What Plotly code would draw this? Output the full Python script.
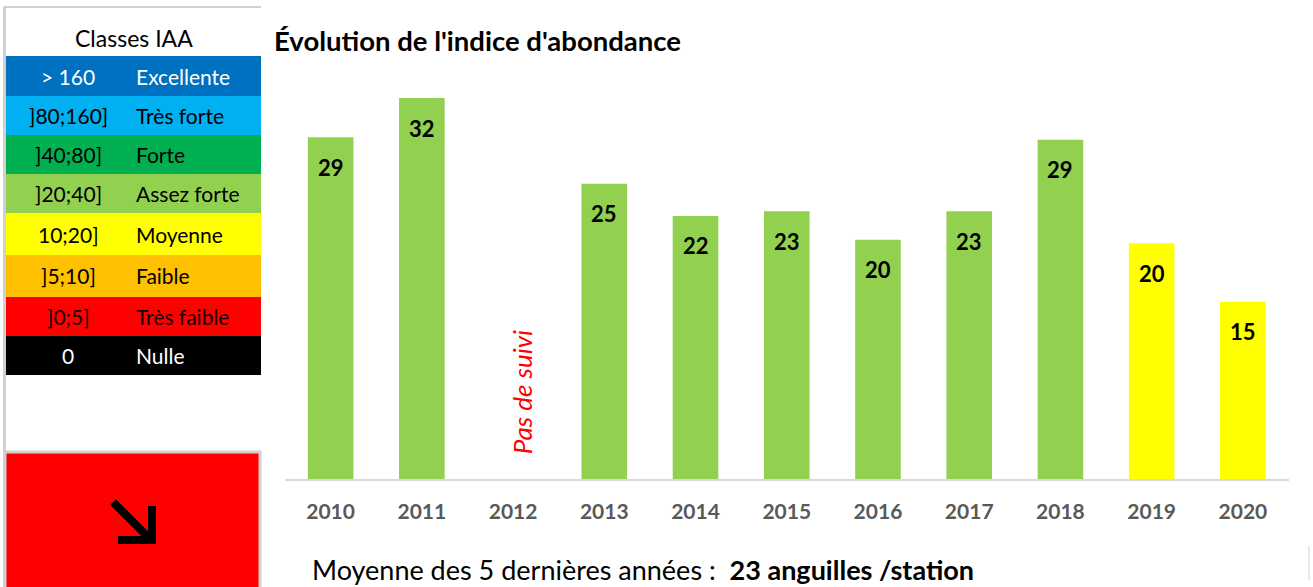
import plotly.graph_objects as go

W, H = 1313, 587

years = ["2010", "2011", "2012", "2013", "2014", "2015", "2016", "2017", "2018", "2019", "2020"]
values = [28.7, 32.0, None, 24.8, 22.1, 22.5, 20.1, 22.5, 28.5, 19.8, 14.9]
labels = ["29", "32", "", "25", "22", "23", "20", "23", "29", "20", "15"]
bar_colors = ["#92D050"] * 9 + ["#FFFF00"] * 2
missing_year = "2012"
missing_text = "Pas de suivi"

class_ranges = ["> 160", "]80;160]", "]40;80]", "]20;40]", "10;20]", "]5;10]", "]0;5]", "0"]
class_names = ["Excellente", "Très forte", "Forte", "Assez forte", "Moyenne", "Faible", "Très faible", "Nulle"]
class_colors = ["#0070C0", "#00B0F0", "#00B050", "#92D050", "#FFFF00", "#FFC000", "#FF0000", "#000000"]
class_text = ["#FFFFFF", "#000000", "#000000", "#000000", "#000000", "#000000", "#1A0000", "#FFFFFF"]

FONT = "Lato"


def px(x):
    return x / W


def py(y):
    return 1 - y / H


fig = go.Figure()
fig.add_trace(go.Bar(
    x=years, y=values, marker=dict(color=bar_colors, line=dict(width=0)),
    width=0.5, hoverinfo="x+y", showlegend=False,
))

annotations = []
for i, (v, lab) in enumerate(zip(values, labels)):
    if v is None:
        continue
    annotations.append(dict(x=i, y=v, xref="x", yref="y", text=f"<b>{lab}</b>",
                            showarrow=False, yshift=-30, xanchor="center", yanchor="middle",
                            font=dict(family=FONT, size=22, color="#000000")))

annotations.append(dict(x=years.index(missing_year), y=7.3, xref="x", yref="y",
                        text=f"<i>{missing_text}</i>", textangle=-90, showarrow=False,
                        xanchor="center", yanchor="middle", xshift=9,
                        font=dict(family=FONT, size=26, color="#FF0000")))

# title
annotations.append(dict(x=px(272), y=py(41), xref="paper", yref="paper", xanchor="left", yanchor="middle",
                        text="<b>Évolution de l'indice d'abondance</b>", showarrow=False,
                        font=dict(family=FONT, size=27.5, color="#000000")))
# bottom text
annotations.append(dict(x=px(310), y=py(569), xref="paper", yref="paper", xanchor="left", yanchor="middle",
                        text="Moyenne des 5 dernières années :  <b>23 anguilles /station</b>", showarrow=False,
                        font=dict(family=FONT, size=27, color="#000000")))

shapes = []
# table frame lines
shapes.append(dict(type="line", xref="paper", yref="paper", x0=px(4), x1=px(261), y0=py(7), y1=py(7),
                   line=dict(color="#D0D0D0", width=2)))
shapes.append(dict(type="line", xref="paper", yref="paper", x0=px(4.5), x1=px(4.5), y0=py(7), y1=py(587),
                   line=dict(color="#D0D0D0", width=3)))
annotations.append(dict(x=px(134), y=py(38), xref="paper", yref="paper", text="Classes IAA",
                        showarrow=False, xanchor="center", yanchor="middle",
                        font=dict(family=FONT, size=23, color="#000000")))

row_edges = [56, 96, 135, 174, 213, 255, 297, 336, 375]
for i, (rng, name, col, tc) in enumerate(zip(class_ranges, class_names, class_colors, class_text)):
    y0, y1 = row_edges[i], row_edges[i + 1]
    shapes.append(dict(type="rect", xref="paper", yref="paper", x0=px(6), x1=px(261), y0=py(y1), y1=py(y0),
                       fillcolor=col, line=dict(width=0), layer="below"))
    ym = py((y0 + y1) / 2)
    annotations.append(dict(x=px(68), y=ym, xref="paper", yref="paper", text=rng, showarrow=False,
                            xanchor="center", yanchor="middle", font=dict(family=FONT, size=21, color=tc)))
    annotations.append(dict(x=px(134), y=ym, xref="paper", yref="paper", text=name, showarrow=False,
                            xanchor="left", yanchor="middle", font=dict(family=FONT, size=21, color=tc)))

# trend box
shapes.append(dict(type="rect", xref="paper", yref="paper", x0=px(5), x1=px(260), y0=py(590), y1=py(452),
                   fillcolor="#FF0000", line=dict(color="#D0D0D0", width=3), layer="below"))
# arrow (down-right)
shapes.append(dict(type="line", xref="paper", yref="paper", x0=px(113), y0=py(502), x1=px(149), y1=py(538),
                   line=dict(color="#000000", width=8)))
shapes.append(dict(type="path", xref="paper", yref="paper",
                   path=f"M {px(118)},{py(540)} L {px(152)},{py(540)} L {px(152)},{py(506)}",
                   line=dict(color="#000000", width=8)))
# small gray bit at right edge
shapes.append(dict(type="line", xref="paper", yref="paper", x0=px(1309), x1=px(1309), y0=py(546), y1=py(580),
                   line=dict(color="#D0D0D0", width=1)))

fig.update_layout(
    width=W, height=H, margin=dict(l=0, r=0, t=0, b=0),
    paper_bgcolor="white", plot_bgcolor="white",
    xaxis=dict(domain=[px(285), px(1288.5)], type="category", range=[-0.5, 10.5],
               showgrid=False, zeroline=False, showline=True, linecolor="#D9D9D9", linewidth=2,
               ticks="", tickfont=dict(family=FONT, size=21, color="#595959", weight="bold"),
               ticklabelstandoff=13, fixedrange=True),
    yaxis=dict(domain=[py(479), py(60)], range=[0, 35.2], visible=False, fixedrange=True),
    shapes=shapes, annotations=annotations, bargap=0.5,
)

fig.write_html("out.html", config={"displayModeBar": False},
               post_script="document.body.style.margin='0';document.body.style.overflow='hidden';")
